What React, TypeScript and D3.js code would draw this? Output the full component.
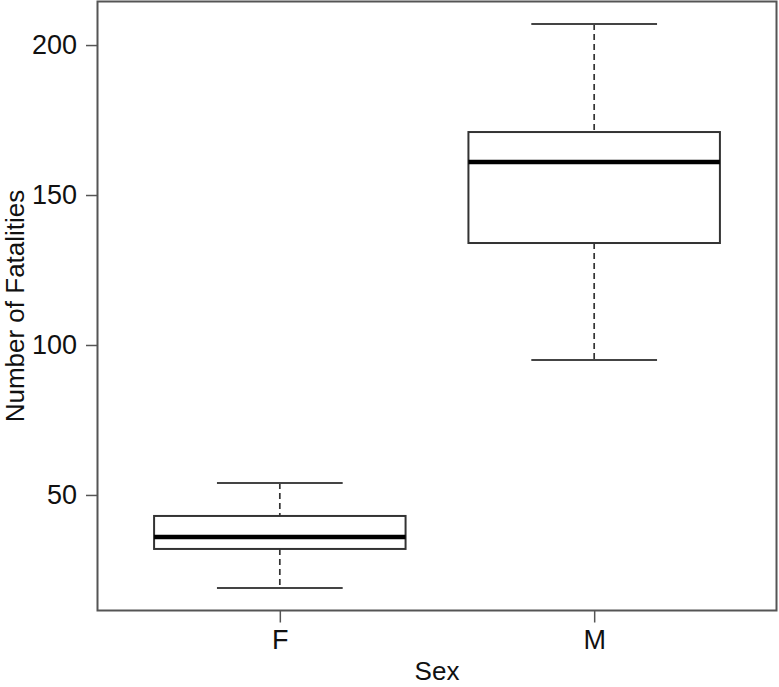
import React, { useRef, useEffect } from 'react';
import * as d3 from 'd3';

// five-number summaries
const categories = ['F', 'M'];
const lowerWhisker = [19, 95];
const q1 = [32, 134];
const medians = [36, 161];
const q3 = [43, 171];
const upperWhisker = [54, 207];
const yTicks = [50, 100, 150, 200];

const App = () => {
  const ref = useRef<SVGSVGElement | null>(null);

  useEffect(() => {
    const svg = d3.select(ref.current);
    svg.selectAll('*').remove();

    const left = 97.5, right = 776.5, top = 1.5, bottom = 610.5;
    const font = 'Liberation Sans, Arial, Helvetica, sans-serif';

    // R-style ranges: 4% padding on each side
    const lo = d3.min(lowerWhisker)!, hi = d3.max(upperWhisker)!;
    const pad = (hi - lo) * 0.04;
    const y = d3.scaleLinear().domain([lo - pad, hi + pad]).range([bottom, top]);
    const x = d3.scaleLinear().domain([0.42, categories.length + 0.58]).range([left, right]);

    const boxW = 0.8;
    const g = svg.append('g');

    categories.forEach((c, i) => {
      const cx = x(i + 1);
      const bl = x(i + 1 - boxW / 2), br = x(i + 1 + boxW / 2);
      const cl = x(i + 1 - boxW / 4), cr = x(i + 1 + boxW / 4);

      // dashed whiskers
      g.append('line').attr('x1', cx).attr('x2', cx)
        .attr('y1', y(upperWhisker[i])).attr('y2', y(q3[i]))
        .attr('stroke', '#333').attr('stroke-width', 1.7).attr('stroke-dasharray', '6,4');
      g.append('line').attr('x1', cx).attr('x2', cx)
        .attr('y1', y(q1[i])).attr('y2', y(lowerWhisker[i]))
        .attr('stroke', '#333').attr('stroke-width', 1.7).attr('stroke-dasharray', '6,4');

      // caps
      [upperWhisker[i], lowerWhisker[i]].forEach(v => {
        g.append('line').attr('x1', cl).attr('x2', cr)
          .attr('y1', y(v)).attr('y2', y(v))
          .attr('stroke', '#444').attr('stroke-width', 2);
      });

      g.append('rect')
        .attr('x', bl).attr('width', br - bl)
        .attr('y', y(q3[i])).attr('height', y(q1[i]) - y(q3[i]))
        .attr('fill', 'none').attr('stroke', '#333').attr('stroke-width', 2);

      g.append('line').attr('x1', bl).attr('x2', br)
        .attr('y1', y(medians[i])).attr('y2', y(medians[i]))
        .attr('stroke', '#000').attr('stroke-width', 4.5);
    });

    // frame
    svg.append('rect')
      .attr('x', left).attr('y', top)
      .attr('width', right - left).attr('height', bottom - top)
      .attr('fill', 'none').attr('stroke', '#555').attr('stroke-width', 2);

    const yAxis = svg.append('g')
      .attr('transform', `translate(${left},0)`)
      .call(d3.axisLeft(y).tickValues(yTicks).tickSize(11.5).tickPadding(9));
    yAxis.select('.domain').remove();
    yAxis.selectAll('line').attr('stroke', '#555').attr('stroke-width', 1.5);
    yAxis.selectAll('text').attr('font-family', font).attr('font-size', 27).attr('fill', '#111');

    const xAxis = svg.append('g')
      .attr('transform', `translate(0,${bottom})`)
      .call(d3.axisBottom(x).tickValues([1, 2]).tickFormat((d: any) => categories[d - 1]).tickSize(12).tickPadding(7));
    xAxis.select('.domain').remove();
    xAxis.selectAll('line').attr('stroke', '#555').attr('stroke-width', 1.5);
    xAxis.selectAll('text').attr('font-family', font).attr('font-size', 27).attr('fill', '#111');

    svg.append('text')
      .attr('x', (left + right) / 2).attr('y', 680)
      .attr('text-anchor', 'middle')
      .attr('font-family', font).attr('font-size', 26).attr('fill', '#111')
      .text('Sex');

    svg.append('text')
      .attr('transform', `translate(23.5,${(top + bottom) / 2}) rotate(-90)`)
      .attr('text-anchor', 'middle')
      .attr('font-family', font).attr('font-size', 26).attr('fill', '#111')
      .text('Number of Fatalities');
  }, []);

  return (
    <svg ref={ref} width={779} height={687}
      style={{ position: 'absolute', left: 0, top: 0, background: '#fff' }} />
  );
};

export default App;
